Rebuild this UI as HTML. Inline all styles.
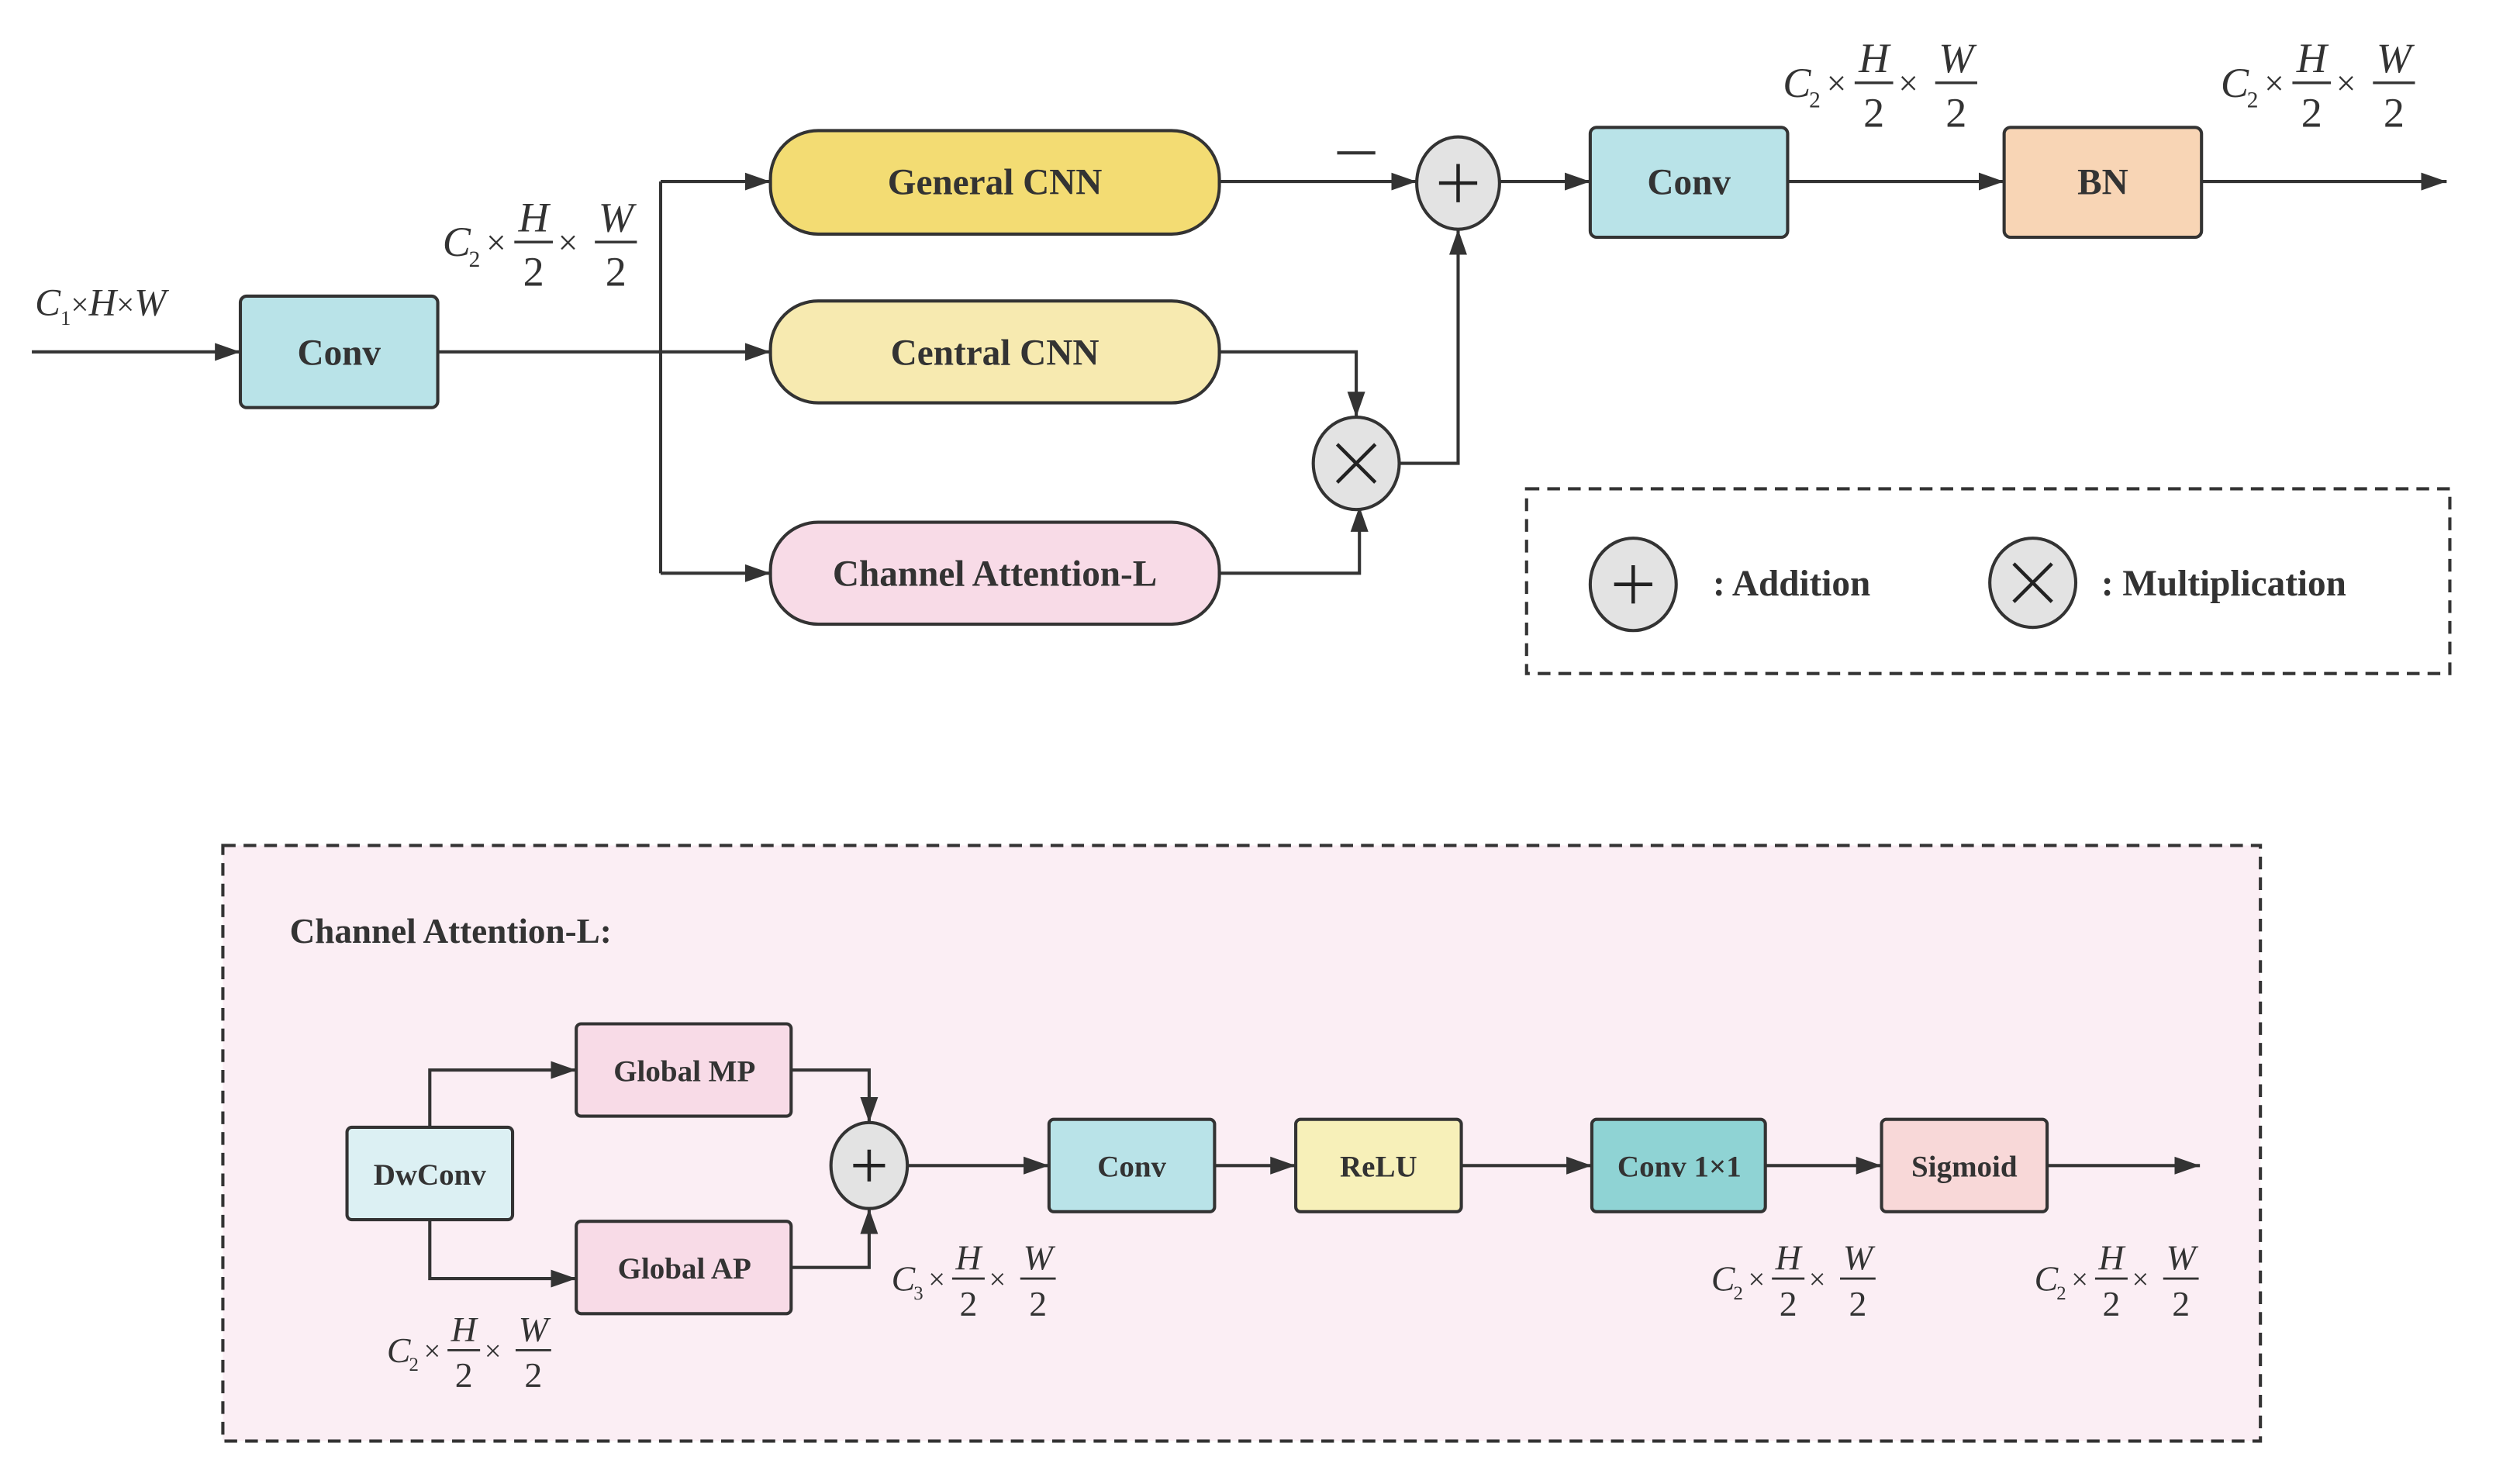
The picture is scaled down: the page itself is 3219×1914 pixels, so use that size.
<!DOCTYPE html>
<html><head><meta charset="utf-8"><style>
html,body{margin:0;padding:0;background:#fff}
svg{display:block}
text{font-family:"Liberation Serif",serif;fill:#333}
.b{font-weight:bold}
.i{font-style:italic}
</style></head><body>
<svg width="3219" height="1914" viewBox="0 0 1568 932" preserveAspectRatio="none" xmlns="http://www.w3.org/2000/svg">
<defs>
<marker id="A" viewBox="0 0 10 10" refX="10" refY="5" markerWidth="16" markerHeight="16" markerUnits="userSpaceOnUse" orient="auto"><path d="M0,1.5L10,5L0,8.5z" fill="#333"/></marker>
</defs>
<rect x="140" y="531" width="1280" height="374" fill="#fbeef4" stroke="#333" stroke-width="2" stroke-dasharray="8,5"/>
<g fill="none" stroke="#333" stroke-width="2">
<path d="M20,221H151" marker-end="url(#A)"/>
<path d="M275,221H484" marker-end="url(#A)"/>
<path d="M415,114V360"/>
<path d="M415,114H484" marker-end="url(#A)"/>
<path d="M415,360H484" marker-end="url(#A)"/>
<path d="M766,114H890" marker-end="url(#A)"/>
<path d="M766,221H852V262" marker-end="url(#A)"/>
<path d="M766,360H854V318" marker-end="url(#A)"/>
<path d="M879,291H916V144" marker-end="url(#A)"/>
<path d="M942,114H999" marker-end="url(#A)"/>
<path d="M1123,114H1259" marker-end="url(#A)"/>
<path d="M1383,114H1537" marker-end="url(#A)"/>
<path d="M840,96H864"/>
<path d="M270,708V672H362" marker-end="url(#A)"/>
<path d="M270,766V803H362" marker-end="url(#A)"/>
<path d="M497,672H546V705" marker-end="url(#A)"/>
<path d="M497,796H546V759" marker-end="url(#A)"/>
<path d="M570,732H659" marker-end="url(#A)"/>
<path d="M763,732H814" marker-end="url(#A)"/>
<path d="M918,732H1000" marker-end="url(#A)"/>
<path d="M1109,732H1182" marker-end="url(#A)"/>
<path d="M1286,732H1382" marker-end="url(#A)"/>
</g>
<g stroke="#333" stroke-width="2">
<rect x="151" y="186" width="124" height="70" rx="4" fill="#b9e3e8"/>
<rect x="484" y="82" width="282" height="65" rx="30" fill="#f3dc73"/>
<rect x="484" y="189" width="282" height="64" rx="30" fill="#f7eab0"/>
<rect x="484" y="328" width="282" height="64" rx="30" fill="#f8dbe7"/>
<rect x="999" y="80" width="124" height="69" rx="4" fill="#b9e3e8"/>
<rect x="1259" y="80" width="124" height="69" rx="4" fill="#f8d5b5"/>
<ellipse cx="916" cy="115" rx="26" ry="29" fill="#e3e3e3"/>
<ellipse cx="852" cy="291" rx="27" ry="29" fill="#e3e3e3"/>
<rect x="959" y="307" width="580" height="116" fill="none" stroke-dasharray="8,5"/>
<ellipse cx="1026" cy="367" rx="27" ry="29" fill="#e3e3e3"/>
<ellipse cx="1277" cy="366" rx="27" ry="28" fill="#e3e3e3"/>
<rect x="218" y="708" width="104" height="58" rx="3" fill="#dcf0f3"/>
<rect x="362" y="643" width="135" height="58" rx="3" fill="#f8dbe7"/>
<rect x="362" y="767" width="135" height="58" rx="3" fill="#f8dbe7"/>
<ellipse cx="546" cy="732" rx="24" ry="27" fill="#e3e3e3"/>
<rect x="659" y="703" width="104" height="58" rx="3" fill="#b9e3e8"/>
<rect x="814" y="703" width="104" height="58" rx="3" fill="#f7f0b9"/>
<rect x="1000" y="703" width="109" height="58" rx="3" fill="#8fd3d4"/>
<rect x="1182" y="703" width="104" height="58" rx="3" fill="#f8d8d8"/>
</g>
<g stroke="#222" stroke-width="2.2" fill="none">
<path d="M916,103V127M904,115H928"/>
<path d="M840,279L864,303M864,279L840,303"/>
<path d="M1026,355V379M1014,367H1038"/>
<path d="M1265,354L1289,378M1289,354L1265,378"/>
<path d="M546,722V742M536,732H556"/>
</g>
<g class="b" text-anchor="middle" font-size="23">
<text x="213" y="229">Conv</text>
<text x="625" y="122">General CNN</text>
<text x="625" y="229">Central CNN</text>
<text x="625" y="368">Channel Attention-L</text>
<text x="1061" y="122">Conv</text>
<text x="1321" y="122">BN</text>
</g>
<g class="b" font-size="23">
<text x="1076" y="374">:  Addition</text>
<text x="1320" y="374">:  Multiplication</text>
<text x="182" y="592" font-size="22">Channel Attention-L:</text>
</g>
<g class="b" text-anchor="middle" font-size="19">
<text x="270" y="744">DwConv</text>
<text x="430" y="679">Global MP</text>
<text x="430" y="803">Global AP</text>
<text x="711" y="739">Conv</text>
<text x="866" y="739">ReLU</text>
<text x="1055" y="739">Conv 1×1</text>
<text x="1234" y="739">Sigmoid</text>
</g>
<text x="22" y="198" font-size="24" class="i">C<tspan font-size="13" dy="6" font-style="normal">1</tspan><tspan dy="-6" font-style="normal" font-size="20">×</tspan>H<tspan font-style="normal" font-size="20">×</tspan>W</text>
<g transform="translate(278,152) scale(1.1)">
<text x="0" y="8" font-size="24" class="i">C</text><text x="15" y="14" font-size="13">2</text><text x="25" y="7" font-size="20">×</text>
<text x="52" y="-6" font-size="24" class="i" text-anchor="middle">H</text><line x1="41" y1="0" x2="63" y2="0" stroke="#333" stroke-width="1.5"/><text x="52" y="25" font-size="24" text-anchor="middle">2</text>
<text x="66" y="7" font-size="20">×</text>
<text x="99" y="-6" font-size="24" class="i" text-anchor="middle">W</text><line x1="87" y1="0" x2="111" y2="0" stroke="#333" stroke-width="1.5"/><text x="99" y="25" font-size="24" text-anchor="middle">2</text>
</g>
<g transform="translate(1120,52) scale(1.1)">
<text x="0" y="8" font-size="24" class="i">C</text><text x="15" y="14" font-size="13">2</text><text x="25" y="7" font-size="20">×</text>
<text x="52" y="-6" font-size="24" class="i" text-anchor="middle">H</text><line x1="41" y1="0" x2="63" y2="0" stroke="#333" stroke-width="1.5"/><text x="52" y="25" font-size="24" text-anchor="middle">2</text>
<text x="66" y="7" font-size="20">×</text>
<text x="99" y="-6" font-size="24" class="i" text-anchor="middle">W</text><line x1="87" y1="0" x2="111" y2="0" stroke="#333" stroke-width="1.5"/><text x="99" y="25" font-size="24" text-anchor="middle">2</text>
</g>
<g transform="translate(1395,52) scale(1.1)">
<text x="0" y="8" font-size="24" class="i">C</text><text x="15" y="14" font-size="13">2</text><text x="25" y="7" font-size="20">×</text>
<text x="52" y="-6" font-size="24" class="i" text-anchor="middle">H</text><line x1="41" y1="0" x2="63" y2="0" stroke="#333" stroke-width="1.5"/><text x="52" y="25" font-size="24" text-anchor="middle">2</text>
<text x="66" y="7" font-size="20">×</text>
<text x="99" y="-6" font-size="24" class="i" text-anchor="middle">W</text><line x1="87" y1="0" x2="111" y2="0" stroke="#333" stroke-width="1.5"/><text x="99" y="25" font-size="24" text-anchor="middle">2</text>
</g>
<g transform="translate(560,803) scale(0.93)">
<text x="0" y="8" font-size="24" class="i">C</text><text x="15" y="14" font-size="13">3</text><text x="25" y="7" font-size="20">×</text>
<text x="52" y="-6" font-size="24" class="i" text-anchor="middle">H</text><line x1="41" y1="0" x2="63" y2="0" stroke="#333" stroke-width="1.5"/><text x="52" y="25" font-size="24" text-anchor="middle">2</text>
<text x="66" y="7" font-size="20">×</text>
<text x="99" y="-6" font-size="24" class="i" text-anchor="middle">W</text><line x1="87" y1="0" x2="111" y2="0" stroke="#333" stroke-width="1.5"/><text x="99" y="25" font-size="24" text-anchor="middle">2</text>
</g>
<g transform="translate(1075,803) scale(0.93)">
<text x="0" y="8" font-size="24" class="i">C</text><text x="15" y="14" font-size="13">2</text><text x="25" y="7" font-size="20">×</text>
<text x="52" y="-6" font-size="24" class="i" text-anchor="middle">H</text><line x1="41" y1="0" x2="63" y2="0" stroke="#333" stroke-width="1.5"/><text x="52" y="25" font-size="24" text-anchor="middle">2</text>
<text x="66" y="7" font-size="20">×</text>
<text x="99" y="-6" font-size="24" class="i" text-anchor="middle">W</text><line x1="87" y1="0" x2="111" y2="0" stroke="#333" stroke-width="1.5"/><text x="99" y="25" font-size="24" text-anchor="middle">2</text>
</g>
<g transform="translate(1278,803) scale(0.93)">
<text x="0" y="8" font-size="24" class="i">C</text><text x="15" y="14" font-size="13">2</text><text x="25" y="7" font-size="20">×</text>
<text x="52" y="-6" font-size="24" class="i" text-anchor="middle">H</text><line x1="41" y1="0" x2="63" y2="0" stroke="#333" stroke-width="1.5"/><text x="52" y="25" font-size="24" text-anchor="middle">2</text>
<text x="66" y="7" font-size="20">×</text>
<text x="99" y="-6" font-size="24" class="i" text-anchor="middle">W</text><line x1="87" y1="0" x2="111" y2="0" stroke="#333" stroke-width="1.5"/><text x="99" y="25" font-size="24" text-anchor="middle">2</text>
</g>
<g transform="translate(243,848) scale(0.93)">
<text x="0" y="8" font-size="24" class="i">C</text><text x="15" y="14" font-size="13">2</text><text x="25" y="7" font-size="20">×</text>
<text x="52" y="-6" font-size="24" class="i" text-anchor="middle">H</text><line x1="41" y1="0" x2="63" y2="0" stroke="#333" stroke-width="1.5"/><text x="52" y="25" font-size="24" text-anchor="middle">2</text>
<text x="66" y="7" font-size="20">×</text>
<text x="99" y="-6" font-size="24" class="i" text-anchor="middle">W</text><line x1="87" y1="0" x2="111" y2="0" stroke="#333" stroke-width="1.5"/><text x="99" y="25" font-size="24" text-anchor="middle">2</text>
</g>
</svg>
</body></html>
